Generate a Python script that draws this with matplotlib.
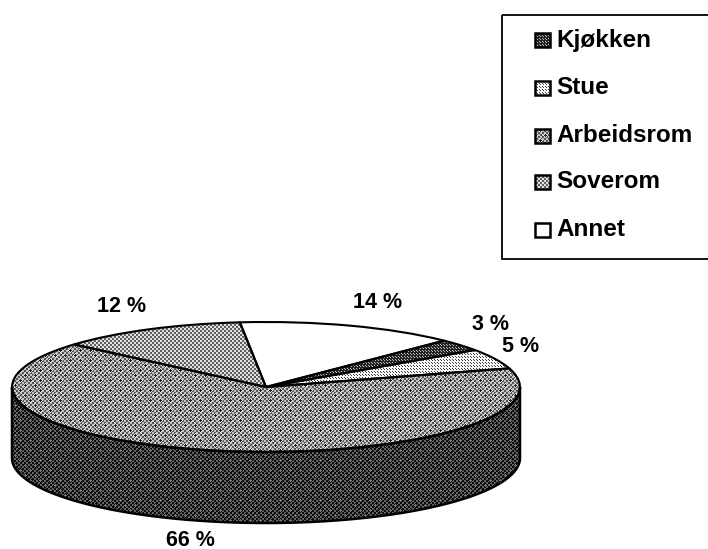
import matplotlib
matplotlib.use('Agg')
import matplotlib.pyplot as plt
import numpy as np
from matplotlib.patches import Polygon, Rectangle

# Data
rooms = ['Kjøkken', 'Stue', 'Arbeidsrom', 'Soverom', 'Annet']
shares = [3, 5, 66, 12, 14]

W, H = 708, 549
CX, CY, RX, RY = 266, 387, 254, 65  # top ellipse, in pixels
DEPTH = 71 / RY

plt.rcParams['font.family'] = ['Liberation Sans', 'DejaVu Sans']
plt.rcParams['font.weight'] = 'bold'

yy, xx = np.mgrid[0:H, 0:W]


def checker(light, dark, cell=2):
    mask = ((xx // cell + yy // cell) % 2) == 0
    return np.where(mask, light, dark).astype(float)


def dots(back, dot, step=3):
    mask = (xx % step == 0) & (yy % step == 0)
    mask |= ((xx + 1) % step == 0) & ((yy + 1) % step == 0)
    return np.where(mask, dot, back).astype(float)


def diamonds(tex, spot, ring, step=10):
    # staggered lattice of small diamonds on top of the checker
    out = tex.copy()
    for ox, oy in [(0, 0), (step // 2, step // 2)]:
        dx = (xx + ox) % step
        dy = (yy + oy) % step
        dist = np.abs(dx - step // 2) + np.abs(dy - step // 2)
        out[dist <= 2] = ring
        out[dist <= 1] = spot
    return out


textures = {
    'Kjøkken': dots(35, 190),
    'Stue': dots(250, 60),
    'Arbeidsrom': diamonds(checker(195, 85), 25, 225),
    'Soverom': checker(225, 95),
    'Annet': np.full((H, W), 255.0),
}
side_texture = diamonds(checker(100, 12), 125, 15)

fig = plt.figure(figsize=(W / 100, H / 100), dpi=100, facecolor='white')
ax = fig.add_axes([0, 0, 1, 1])

limits = ((0 - CX) / RX, (W - CX) / RX, (CY - H) / RY, CY / RY)

# Pie top, squashed into an ellipse by the axes limits
wedges, _ = ax.pie(shares, startangle=45.5, counterclock=False, radius=1,
                   colors=['white'] * len(shares))
ax.set_aspect('auto')

for wedge, room in zip(wedges, rooms):
    im = ax.imshow(textures[room], cmap='gray', vmin=0, vmax=255, aspect='auto',
                   extent=limits, interpolation='nearest', zorder=2)
    im.set_clip_path(wedge)
    wedge.set_facecolor('none')
    wedge.set_edgecolor('black')
    wedge.set_linewidth(1.5)
    wedge.set_zorder(3)

# Side wall of the cake
t = np.radians(np.linspace(180, 360, 200))
upper = np.column_stack([np.cos(t), np.sin(t)])
lower = upper[::-1] - [0, DEPTH]
wall = Polygon(np.vstack([upper, lower]), closed=True, facecolor='none',
               edgecolor='black', linewidth=1.8, zorder=3)
ax.add_patch(wall)
im = ax.imshow(side_texture, cmap='gray', vmin=0, vmax=255, aspect='auto',
               extent=limits, interpolation='nearest', zorder=2)
im.set_clip_path(wall)

ax.set_xlim(limits[0], limits[1])
ax.set_ylim(limits[2], limits[3])
ax.axis('off')

# Overlay in pixel coordinates for the labels and the legend
over = fig.add_axes([0, 0, 1, 1])
over.set_xlim(0, W)
over.set_ylim(H, 0)
over.axis('off')
over.patch.set_alpha(0)

label_xy = [(490, 325), (521, 347), (190, 540), (122, 306), (378, 302)]
for share, (lx, ly) in zip(shares, label_xy):
    over.text(lx, ly, f'{share} %', fontsize=15.5, ha='center', va='center')

# Legend box, runs off the right edge of the picture
over.add_patch(Rectangle((502, 15), 240, 244, facecolor='none', edgecolor='black',
                         linewidth=1.3))
row_y = [40, 88, 136, 182, 230]
for room, ry in zip(rooms, row_y):
    swatch = Rectangle((535, ry - 7), 15, 14, facecolor='none', edgecolor='black',
                       linewidth=1.8, zorder=3)
    over.add_patch(swatch)
    im = over.imshow(textures[room], cmap='gray', vmin=0, vmax=255, aspect='auto',
                     extent=(0, W, H, 0), interpolation='nearest', zorder=2)
    im.set_clip_path(swatch)
    over.text(556, ry, room, fontsize=17.5, ha='left', va='center')
over.set_xlim(0, W)
over.set_ylim(H, 0)

fig.savefig('out.png', dpi=100, facecolor='white')
plt.close(fig)
